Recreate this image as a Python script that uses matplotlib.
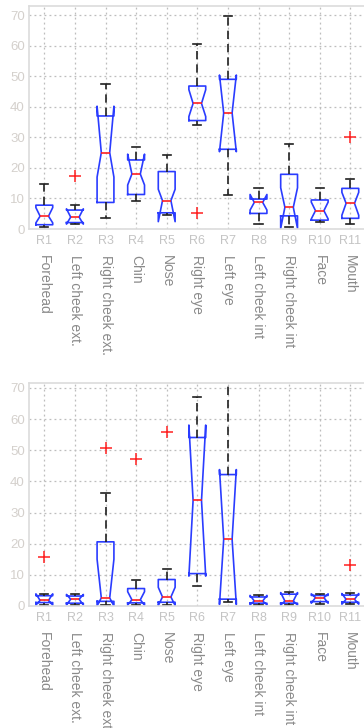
import matplotlib
matplotlib.use("Agg")
import matplotlib.pyplot as plt
from matplotlib.transforms import blended_transform_factory

plt.rcParams['font.family'] = ['Liberation Sans', 'DejaVu Sans']

codes = ["R1", "R2", "R3", "R4", "R5", "R6", "R7", "R8", "R9", "R10", "R11"]
regions = ["Forehead", "Left cheek ext.", "Right cheek ext.", "Chin", "Nose",
           "Right eye", "Left eye", "Left cheek int", "Right cheek int", "Face", "Mouth"]

# top panel: whislo, q1, cilo, med, cihi, q3, whishi, fliers
top_whislo = [0.8, 1.5, 3.7, 9.3, 4.6, 34.2, 11.1, 1.5, 0.75, 2.4, 1.5]
top_q1     = [1.4, 2.1, 8.7, 11.3, 5.3, 35.5, 26.1, 5.1, 4.3, 2.9, 3.5]
top_cilo   = [2.0, 1.6, 17.0, 14.4, 2.4, 36.8, 25.3, 6.2, 0.2, 3.3, 4.5]
top_med    = [4.2, 3.9, 25.0, 18.0, 9.3, 41.1, 38.0, 8.7, 7.1, 6.0, 8.4]
top_cihi   = [7.0, 6.6, 40.2, 24.5, 13.0, 45.6, 50.4, 11.3, 13.5, 8.8, 12.0]
top_q3     = [7.8, 6.2, 37.0, 22.6, 18.8, 46.8, 49.0, 9.8, 17.9, 9.5, 13.3]
top_whishi = [14.7, 7.9, 47.6, 26.8, 24.2, 60.4, 69.7, 13.5, 27.8, 13.5, 16.4]
top_fliers = [[], [17.5], [], [], [], [5.1], [], [], [], [], [30.0]]

# bottom panel
bot_whislo = [0.2, 0.4, 0.2, 0.2, 0.3, 6.5, 1.3, 0.4, 0.4, 0.75, 0.5]
bot_q1     = [1.1, 0.9, 1.5, 1.0, 1.2, 10.4, 2.2, 0.9, 0.9, 1.4, 1.2]
bot_cilo   = [0.3, 0.4, 0.0, 0.3, 0.2, 9.6, 0.5, 0.4, 0.3, 0.9, 0.6]
bot_med    = [1.8, 2.15, 2.6, 2.0, 2.9, 33.9, 21.4, 1.6, 1.6, 2.7, 2.15]
bot_cihi   = [3.9, 3.7, 15.0, 4.6, 6.0, 58.1, 43.8, 3.4, 4.3, 3.9, 4.0]
bot_q3     = [3.3, 3.2, 20.6, 5.6, 8.5, 54.1, 42.2, 2.9, 3.8, 3.4, 3.5]
bot_whishi = [4.0, 3.8, 36.3, 8.4, 11.9, 67.0, 80.0, 3.5, 4.6, 4.0, 4.2]
bot_fliers = [[15.8], [], [50.6], [47.1], [55.9], [], [], [], [], [], [13.1]]

W, H = 364, 728
fig = plt.figure(figsize=(W / 100, H / 100), dpi=100)

frame_col = '#dcdcdc'
ytick_col = '#d4d0cc'
xtick_col = '#c4c4c4'
name_col = '#8a8a8a'


def make_stats(wl, q1, cl, md, ch, q3, wh, fl):
    out = []
    for i in range(len(md)):
        out.append(dict(whislo=wl[i], q1=q1[i], cilo=cl[i], med=md[i], cihi=ch[i],
                        q3=q3[i], whishi=wh[i], fliers=fl[i]))
    return out


def panel(top_px, bottom_px, ymax, stats):
    left_px = 29
    unit = 30.6
    ncat = 12
    ax = fig.add_axes([left_px / W, 1 - bottom_px / H, ncat * unit / W, (bottom_px - top_px) / H])
    pos = list(range(1, len(stats) + 1))
    ax.bxp(stats, positions=pos, widths=0.55, shownotches=True, capwidths=0.27,
           boxprops=dict(color='#2a3cff', lw=1.2),
           medianprops=dict(color='#ff2020', lw=1.2),
           whiskerprops=dict(color='#202020', lw=1.2, linestyle=(0, (5, 3))),
           capprops=dict(color='#202020', lw=1.2),
           flierprops=dict(marker='+', markeredgecolor='#ff2020', markersize=8, mew=1.1,
                           linestyle='none'))
    ax.set_xlim(0.5, ncat + 0.5)
    ax.set_ylim(0, ymax)
    ax.set_yticks(range(0, 71, 10))
    ax.set_xticks(pos)
    ax.set_xticklabels(codes)
    ax.grid(True, color='#bdbdbd', linestyle=(0, (1.5, 2.5)), lw=0.9)
    ax.set_axisbelow(True)
    for s in ax.spines.values():
        s.set_color(frame_col)
        s.set_linewidth(1.2)
    ax.tick_params(axis='y', colors=ytick_col, labelsize=9.5, length=0, pad=3)
    ax.tick_params(axis='x', colors=xtick_col, labelsize=9, length=0, pad=4)
    for lab in ax.get_yticklabels():
        lab.set_color(ytick_col)
    for lab in ax.get_xticklabels():
        lab.set_color(xtick_col)
    tr = blended_transform_factory(ax.transData, ax.transAxes)
    for p, name in zip(pos, regions):
        ax.text(p, -26 / (bottom_px - top_px), name, transform=tr, rotation=-90,
                ha='center', va='top', fontsize=10, color=name_col)
    return ax


panel(6, 229, 73, make_stats(top_whislo, top_q1, top_cilo, top_med, top_cihi, top_q3,
                              top_whishi, top_fliers))
panel(383, 606, 71.6, make_stats(bot_whislo, bot_q1, bot_cilo, bot_med, bot_cihi, bot_q3,
                                  bot_whishi, bot_fliers))

fig.savefig("out.png", dpi=100)
